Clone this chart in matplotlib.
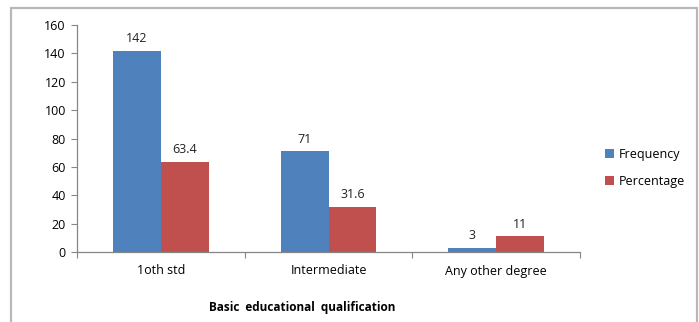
import numpy as np
import matplotlib.pyplot as plt
from matplotlib.patches import Rectangle

categories = ['1oth std', 'Intermediate', 'Any other degree']
frequency = [142, 71, 3]
percentage = [63.4, 31.6, 11]
freq_labels = ['142', '71', '3']
pct_labels = ['63.4', '31.6', '11']

plt.rcParams['font.family'] = ['Open Sans', 'DejaVu Sans']

W, H = 699, 322
fig = plt.figure(figsize=(W / 100, H / 100), dpi=100)

# outer chart frame (bottom edge cut off)
fig.add_artist(Rectangle((11 / W, -0.05), (697 - 11) / W, (H - 8) / H + 0.05,
                         transform=fig.transFigure, fill=False,
                         edgecolor='#b8b8b8', linewidth=1.6))

ax = fig.add_axes([77 / W, 1 - 252 / H, (580 - 77) / W, (252 - 25) / H])

x = np.arange(len(categories))
w = 0.286
b1 = ax.bar(x - w / 2, frequency, w, color='#4F81BD', label='Frequency')
b2 = ax.bar(x + w / 2, percentage, w, color='#C0504D', label='Percentage')

for bars, labels in ((b1, freq_labels), (b2, pct_labels)):
    for bar, lab in zip(bars, labels):
        ax.text(bar.get_x() + bar.get_width() / 2, bar.get_height() + 4, lab,
                ha='center', va='bottom', fontsize=9, color='#222222')

ax.set_xlim(-0.5, 2.5)
ax.set_ylim(0, 160)
ax.set_yticks(range(0, 161, 20))
ax.set_xticks([-0.5, 0.5, 1.5, 2.5], minor=False)
ax.set_xticklabels([])
ax.set_xticks(x, minor=True)
ax.set_xticklabels(categories, minor=True)
ax.tick_params(axis='x', which='minor', length=0, pad=9, labelsize=9)
ax.tick_params(axis='x', which='major', length=4, color='#868686')
ax.tick_params(axis='y', length=4, color='#868686', labelsize=9, pad=4)

for s in ['top', 'right']:
    ax.spines[s].set_visible(False)
for s in ['left', 'bottom']:
    ax.spines[s].set_color('#868686')
    ax.spines[s].set_linewidth(0.9)

leg = fig.legend(handles=[b1, b2], loc='center left',
                 bbox_to_anchor=(594 / W, 1 - 168 / H), frameon=False,
                 fontsize=9, handlelength=0.7, handleheight=0.7,
                 handletextpad=0.4, labelspacing=1.1)

fig.text(302 / W, 1 - 308 / H, 'Basic  educational  qualification',
         ha='center', va='center', fontsize=8.5, fontweight='bold')

fig.savefig('out.png', dpi=100)
